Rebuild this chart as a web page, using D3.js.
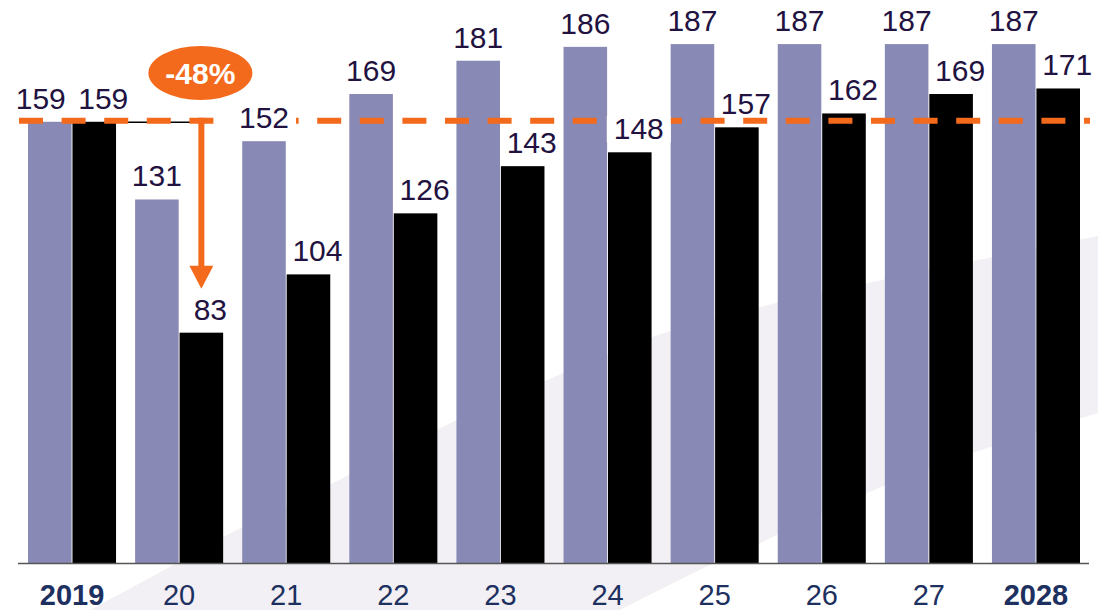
<!DOCTYPE html>
<html>
<head>
<meta charset="utf-8">
<script src="https://cdn.jsdelivr.net/npm/d3@7"></script>
<style>
  html, body { margin: 0; padding: 0; background: #ffffff; }
  svg { display: block; font-family: "Liberation Sans", Arial, sans-serif; }
</style>
</head>
<body>
<svg id="chart" width="1098" height="610"></svg>
<script>
// ---- data ----
const categories = ["2019", "20", "21", "22", "23", "24", "25", "26", "27", "2028"];
const boldCategories = ["2019", "2028"];
const seriesPurple = [159, 131, 152, 169, 181, 186, 187, 187, 187, 187];
const seriesBlack = [159, 83, 104, 126, 143, 148, 157, 162, 169, 171];
const referenceValue = 159;
const changeLabel = "-48%";
const changeCategory = "20";

// ---- layout ----
const W = 1098, H = 610;
const baseY = 563;
const svg = d3.select("#chart");

const x = d3.scaleBand().domain(categories).range([28, 1080]).paddingInner(0.178).paddingOuter(0);
const xs = d3.scaleBand().domain(["purple", "black"]).range([0, x.bandwidth()]).paddingInner(0.02);
const y = d3.scaleLinear().domain([0, 200]).range([baseY, 8]);

const purpleColor = "#8989b5";
const orange = "#f46a1c";
const valueColor = "#22123f";
const catColor = "#1d3060";

// background swoosh (decorative)
const swoosh = d3.path();
const upper = [[90, 610], [177, 563], [223, 537], [333, 483], [457, 420], [547, 380], [652, 337], [760, 307], [900, 276], [1098, 236]];
const lower = [[1098, 413], [973, 453], [867, 493], [760, 543], [710, 565], [620, 610]];
const line = d3.line().curve(d3.curveCatmullRom);
svg.append("path")
  .attr("d", line(upper) + "L" + line(lower).slice(1) + "Z")
  .attr("fill", "#f2f0f4");

// bars
const groups = svg.append("g").selectAll("g").data(categories).join("g")
  .attr("transform", d => `translate(${x(d)},0)`);

groups.append("rect")
  .attr("x", xs("purple")).attr("width", xs.bandwidth())
  .attr("y", (d, i) => y(seriesPurple[i]))
  .attr("height", (d, i) => baseY - y(seriesPurple[i]))
  .attr("fill", purpleColor);

groups.append("rect")
  .attr("x", xs("black")).attr("width", xs.bandwidth())
  .attr("y", (d, i) => y(seriesBlack[i]))
  .attr("height", (d, i) => baseY - y(seriesBlack[i]))
  .attr("fill", "#000000");

// axis line
svg.append("line")
  .attr("x1", 18).attr("x2", 1089).attr("y1", baseY + 0.5).attr("y2", baseY + 0.5)
  .attr("stroke", "#555555").attr("stroke-width", 1.5);

// category labels
svg.append("g").selectAll("text").data(categories).join("text")
  .attr("x", d => x(d) + x.bandwidth() / 2)
  .attr("y", 605)
  .attr("text-anchor", "middle")
  .attr("font-size", 29)
  .attr("font-weight", d => boldCategories.includes(d) ? "bold" : "normal")
  .attr("fill", catColor)
  .text(d => d);

// reference connector + arrow
const refY = y(referenceValue) - 1;
const arrowX = x(changeCategory) + xs("black") + xs.bandwidth() / 2;
const firstBlackRight = x(categories[0]) + xs("black") + xs.bandwidth();
svg.append("line")
  .attr("x1", firstBlackRight).attr("x2", arrowX)
  .attr("y1", refY + 1.5).attr("y2", refY + 1.5)
  .attr("stroke", "#000").attr("stroke-width", 1.5);

// dashed reference line
svg.append("line")
  .attr("x1", 19).attr("x2", 1090).attr("y1", refY).attr("y2", refY)
  .attr("stroke", orange).attr("stroke-width", 6)
  .attr("stroke-dasharray", "24,18.6");

// arrow
const targetVal = seriesBlack[categories.indexOf(changeCategory)];
const tipY = y(targetVal) - 44;
svg.append("line")
  .attr("x1", arrowX).attr("x2", arrowX).attr("y1", refY - 3).attr("y2", tipY - 20)
  .attr("stroke", orange).attr("stroke-width", 6);
svg.append("path")
  .attr("d", `M${arrowX - 12},${tipY - 23} L${arrowX + 12},${tipY - 23} L${arrowX},${tipY} Z`)
  .attr("fill", orange);

// value labels
const labels = [];
categories.forEach((c, i) => {
  const cx = x(c);
  labels.push({ v: seriesPurple[i], x: cx + xs("purple") + xs.bandwidth() / 2 + (i === 0 ? -9 : 0), top: y(seriesPurple[i]) });
  labels.push({ v: seriesBlack[i], x: cx + xs("black") + xs.bandwidth() / 2 + 9, top: y(seriesBlack[i]) });
});
const lg = svg.append("g");
labels.forEach(l => {
  const by = l.top - 13;
  // white backing only where label crosses the dashed line
  if (by + 2 > refY - 3 && by - 22 < refY + 3) {
    lg.append("rect").attr("x", l.x - 32).attr("y", by - 23).attr("width", 64).attr("height", 26).attr("fill", "#fff");
  }
  lg.append("text")
    .attr("x", l.x).attr("y", by)
    .attr("text-anchor", "middle")
    .attr("font-size", 30)
    .attr("fill", valueColor)
    .text(l.v);
});

// change bubble
svg.append("ellipse")
  .attr("cx", arrowX - 1).attr("cy", 73).attr("rx", 52).attr("ry", 27)
  .attr("fill", orange);
svg.append("text")
  .attr("x", arrowX - 1).attr("y", 84)
  .attr("text-anchor", "middle")
  .attr("font-size", 30).attr("font-weight", "bold")
  .attr("fill", "#ffffff")
  .text(changeLabel);
</script>
</body>
</html>
